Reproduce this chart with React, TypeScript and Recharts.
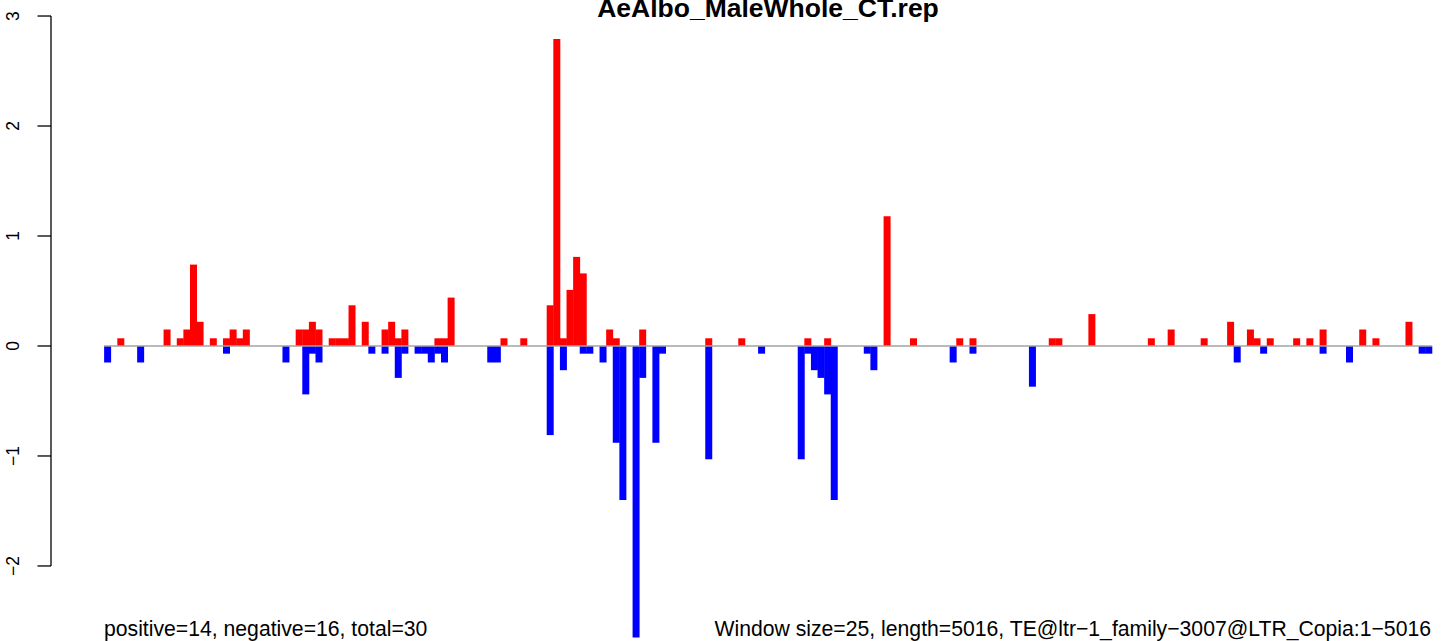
import { BarChart, Bar, XAxis, YAxis, ReferenceLine } from "recharts";

const TITLE = "AeAlbo_MaleWhole_CT.rep";
const FOOT_LEFT = "positive=14, negative=16, total=30";
const FOOT_RIGHT = "Window size=25, length=5016, TE@ltr−1_family−3007@LTR_Copia:1−5016";

// 25bp windows over 5016bp -> 201 bins
const NBINS = 201;

// windows with a positive score and their value
const posBins = [
  2, 9, 11, 12, 13, 14, 16, 18, 19, 20, 21, 29, 30, 31, 32, 34, 35, 36, 37, 39,
  42, 43, 44, 45, 50, 51, 52, 60, 63, 67, 68, 69, 70, 71, 72, 76, 77, 81, 91, 96,
  106, 109, 118, 122, 129, 131, 143, 144, 149, 158, 161, 166, 170, 173, 174, 176,
  180, 182, 184, 190, 192, 197,
];
const posVals = [
  0.07, 0.15, 0.07, 0.15, 0.74, 0.22, 0.07, 0.07, 0.15, 0.07, 0.15, 0.15, 0.15, 0.22, 0.15, 0.07, 0.07, 0.07, 0.37, 0.22,
  0.15, 0.22, 0.07, 0.15, 0.07, 0.07, 0.44, 0.07, 0.07, 0.37, 2.79, 0.07, 0.51, 0.81, 0.66, 0.15, 0.07, 0.15, 0.07, 0.07,
  0.07, 0.07, 1.18, 0.07, 0.07, 0.07, 0.07, 0.07, 0.29, 0.07, 0.15, 0.07, 0.22, 0.15, 0.07, 0.07,
  0.07, 0.07, 0.15, 0.15, 0.07, 0.22,
];

// windows with a negative score and their value
const negBins = [
  0, 5, 18, 27, 30, 31, 32, 40, 42, 44, 45, 47, 48, 49, 50, 51, 58, 59, 67, 69,
  72, 73, 75, 77, 78, 80, 81, 83, 84, 91, 99, 105, 106, 107, 108, 109, 110, 115, 116, 128,
  131, 140, 171, 175, 184, 188, 199, 200,
];
const negVals = [
  -0.15, -0.15, -0.07, -0.15, -0.44, -0.07, -0.15, -0.07, -0.07, -0.29, -0.07, -0.07, -0.07, -0.15, -0.07, -0.15, -0.15, -0.15, -0.81, -0.22,
  -0.07, -0.07, -0.15, -0.88, -1.4, -2.65, -0.29, -0.88, -0.07, -1.03, -0.07, -1.03, -0.07, -0.22, -0.29, -0.44, -1.4, -0.07, -0.22, -0.15,
  -0.07, -0.37, -0.15, -0.07, -0.07, -0.15, -0.07, -0.07,
];

const yTicks = [-2, -1, 0, 1, 2, 3];

const FONT = "'Liberation Sans', Arial, Helvetica, sans-serif";

const data = Array.from({ length: NBINS }, (_, i) => {
  const p = posBins.indexOf(i);
  const n = negBins.indexOf(i);
  return {
    x: i + 0.5,
    pos: p >= 0 ? posVals[p] : 0,
    neg: n >= 0 ? negVals[n] : 0,
  };
});

function YTick(props: any) {
  const { y, payload } = props;
  const label = payload.value < 0 ? `−${Math.abs(payload.value)}` : `${payload.value}`;
  return (
    <g>
      <line x1={37.5} x2={51} y1={y} y2={y} stroke="#000" strokeWidth={1.3} />
      <text
        transform={`translate(18.5,${y}) rotate(-90)`}
        textAnchor="middle"
        fontSize={17.5}
        fontFamily={FONT}
        fill="#000"
      >
        {label}
      </text>
    </g>
  );
}

export default function App() {
  return (
    <div
      style={{
        position: "absolute",
        left: 0,
        top: 0,
        width: 1444,
        height: 641,
        overflow: "hidden",
        background: "#fff",
      }}
    >
      <BarChart
        width={1500}
        height={670}
        data={data}
        stackOffset="sign"
        barCategoryGap={0}
        barGap={0}
        margin={{ top: 14.7, right: 15, bottom: 9, left: 0 }}
      >
        <XAxis type="number" dataKey="x" domain={[-8.04, 209.04]} allowDataOverflow hide />
        <YAxis
          type="number"
          width={51}
          domain={[-2.864, 3.012]}
          allowDataOverflow
          ticks={yTicks}
          interval={0}
          axisLine={false}
          tickLine={false}
          tick={<YTick />}
        />
        <Bar dataKey="pos" stackId="s" fill="#ff0000" isAnimationActive={false} />
        <Bar dataKey="neg" stackId="s" fill="#0000ff" isAnimationActive={false} />
        {/* zero line across the bar region */}
        <ReferenceLine
          segment={[{ x: 0, y: 0 }, { x: NBINS, y: 0 }]}
          stroke="#a3a3a3"
          strokeWidth={1.5}
          ifOverflow="visible"
        />
        {/* R-style axis line from -2 to 3 */}
        <ReferenceLine
          segment={[{ x: -8.04, y: -2 }, { x: -8.04, y: 3 }]}
          stroke="#000"
          strokeWidth={1.3}
          ifOverflow="visible"
        />
      </BarChart>

      <svg
        width={1444}
        height={641}
        style={{ position: "absolute", left: 0, top: 0, pointerEvents: "none" }}
      >
        <text x={768} y={16.5} textAnchor="middle" fontSize={26.5} fontWeight="bold" fontFamily={FONT}>
          {TITLE}
        </text>
        <text x={104} y={636} textAnchor="start" fontSize={21.2} fontFamily={FONT}>
          {FOOT_LEFT}
        </text>
        <text x={1431} y={636} textAnchor="end" fontSize={21.2} fontFamily={FONT}>
          {FOOT_RIGHT}
        </text>
      </svg>
    </div>
  );
}
